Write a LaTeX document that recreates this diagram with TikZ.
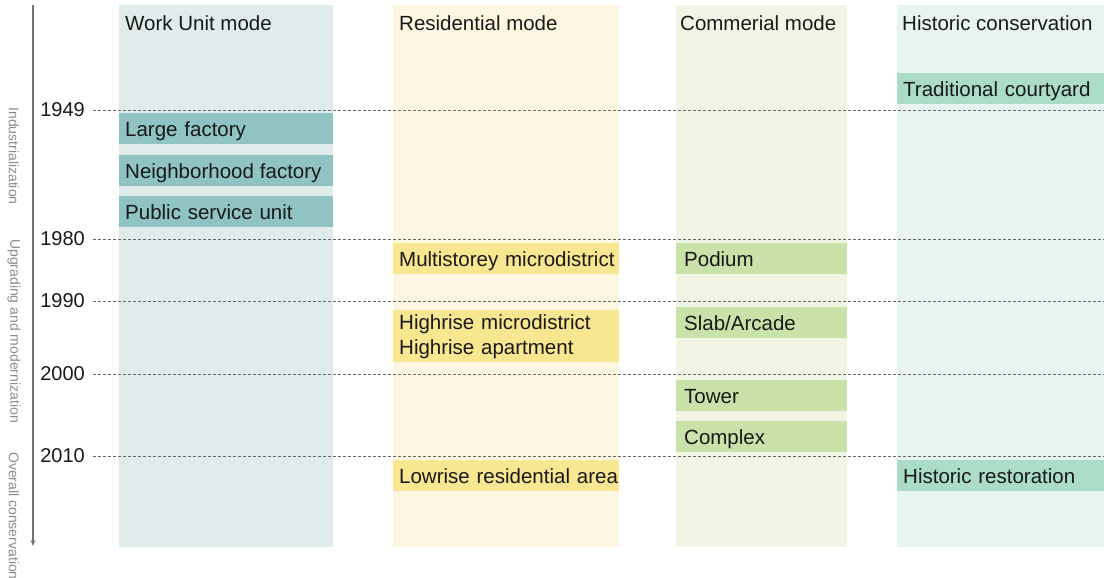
\documentclass[tikz,border=0pt]{standalone}
\usepackage{fontspec}
\setmainfont{Liberation Sans}
\usetikzlibrary{arrows.meta}
\definecolor{wubg}{RGB}{224,236,235}
\definecolor{wubox}{RGB}{143,196,195}
\definecolor{rsbg}{RGB}{253,247,225}
\definecolor{rsbox}{RGB}{248,230,145}
\definecolor{cmbg}{RGB}{240,245,228}
\definecolor{cmbox}{RGB}{200,226,170}
\definecolor{hcbg}{RGB}{230,245,240}
\definecolor{hcbox}{RGB}{170,220,200}
\definecolor{txt}{RGB}{25,25,25}
\tikzset{
  mode/.style={font=\fontsize{20.5}{24}\selectfont,text=txt,anchor=west,inner sep=0pt},
  item/.style={font=\fontsize{20.5}{25}\selectfont,text=txt,anchor=north west,align=left,
    inner xsep=6pt,inner ysep=0pt,minimum height=31pt,text height=17pt,text depth=2pt},
  year/.style={font=\fontsize{20}{24}\selectfont,text=txt,anchor=east,inner sep=0pt},
  phase/.style={font=\fontsize{14}{16}\selectfont,text=black!45,rotate=-90,inner sep=0pt},
  grid/.style={densely dashed,black!60,line width=.8pt},
}
\begin{document}
\begin{tikzpicture}[x=1pt,y=-1pt]
\useasboundingbox (0,0) rectangle (1104,578);
% column backgrounds
\fill[wubg] (119,5) rectangle (333,547);
\fill[rsbg] (393,5) rectangle (619,547);
\fill[cmbg] (676,5) rectangle (847,547);
\fill[hcbg] (897,5) rectangle (1104,547);
\node[mode] (hwu) at (125,23) {Work Unit mode};
\node[mode] (hrs) at (399,23) {Residential mode};
\node[mode] (hcm) at (680,23) {Commerial mode};
\node[mode] (hhc) at (902,23) {Historic conservation};
% time axis
\coordinate (axtop) at (33,5);
\coordinate (axbot) at (33,546);
\draw[black!55,line width=1.2pt,-{Stealth[length=6pt,width=5pt]}] (axtop) -- (axbot);
\node[phase] (ind) at (14,156) {Industrialization};
\node[phase] (upg) at (14,331) {Upgrading and modernization};
\node[phase] (ovc) at (14,516) {Overall conservation};
% years
\foreach \yr/\y in {1949/110,1980/239,1990/301,2000/374,2010/456}{
  \node[year] (y\yr) at (85,\y) {\yr};
  \draw[grid] (93,\y) -- (1104,\y);
}
% work unit mode
\node[item,fill=wubox,text width=202pt] (large) at (119,113) {Large factory};
\node[item,fill=wubox,text width=202pt] (nbhd) at (119,155) {\mbox{Neighborhood\hspace{6pt}factory}};
\node[item,fill=wubox,text width=202pt] (pubsvc) at (119,196) {Public service unit};
% residential mode
\node[item,fill=rsbox,text width=214pt] (multi) at (393,243) {\mbox{Multistorey microdistrict}};
\node[item,fill=rsbox,text width=214pt,minimum height=52pt,text height=15pt,text depth=29pt] (high) at (393,310) {Highrise microdistrict\\Highrise apartment};
\node[item,fill=rsbox,text width=214pt] (low) at (393,460) {\mbox{Lowrise residential area}};
% commercial mode
\node[item,fill=cmbox,text width=155pt,inner xsep=8pt] (podium) at (676,243) {Podium};
\node[item,fill=cmbox,text width=155pt,inner xsep=8pt] (slab) at (676,307) {Slab/Arcade};
\node[item,fill=cmbox,text width=155pt,inner xsep=8pt] (tower) at (676,380) {Tower};
\node[item,fill=cmbox,text width=155pt,inner xsep=8pt] (complex) at (676,421) {Complex};
% historic conservation
\node[item,fill=hcbox,text width=195pt] (court) at (897,73) {Traditional courtyard};
\node[item,fill=hcbox,text width=195pt] (restore) at (897,460) {Historic restoration};
\end{tikzpicture}
\end{document}
